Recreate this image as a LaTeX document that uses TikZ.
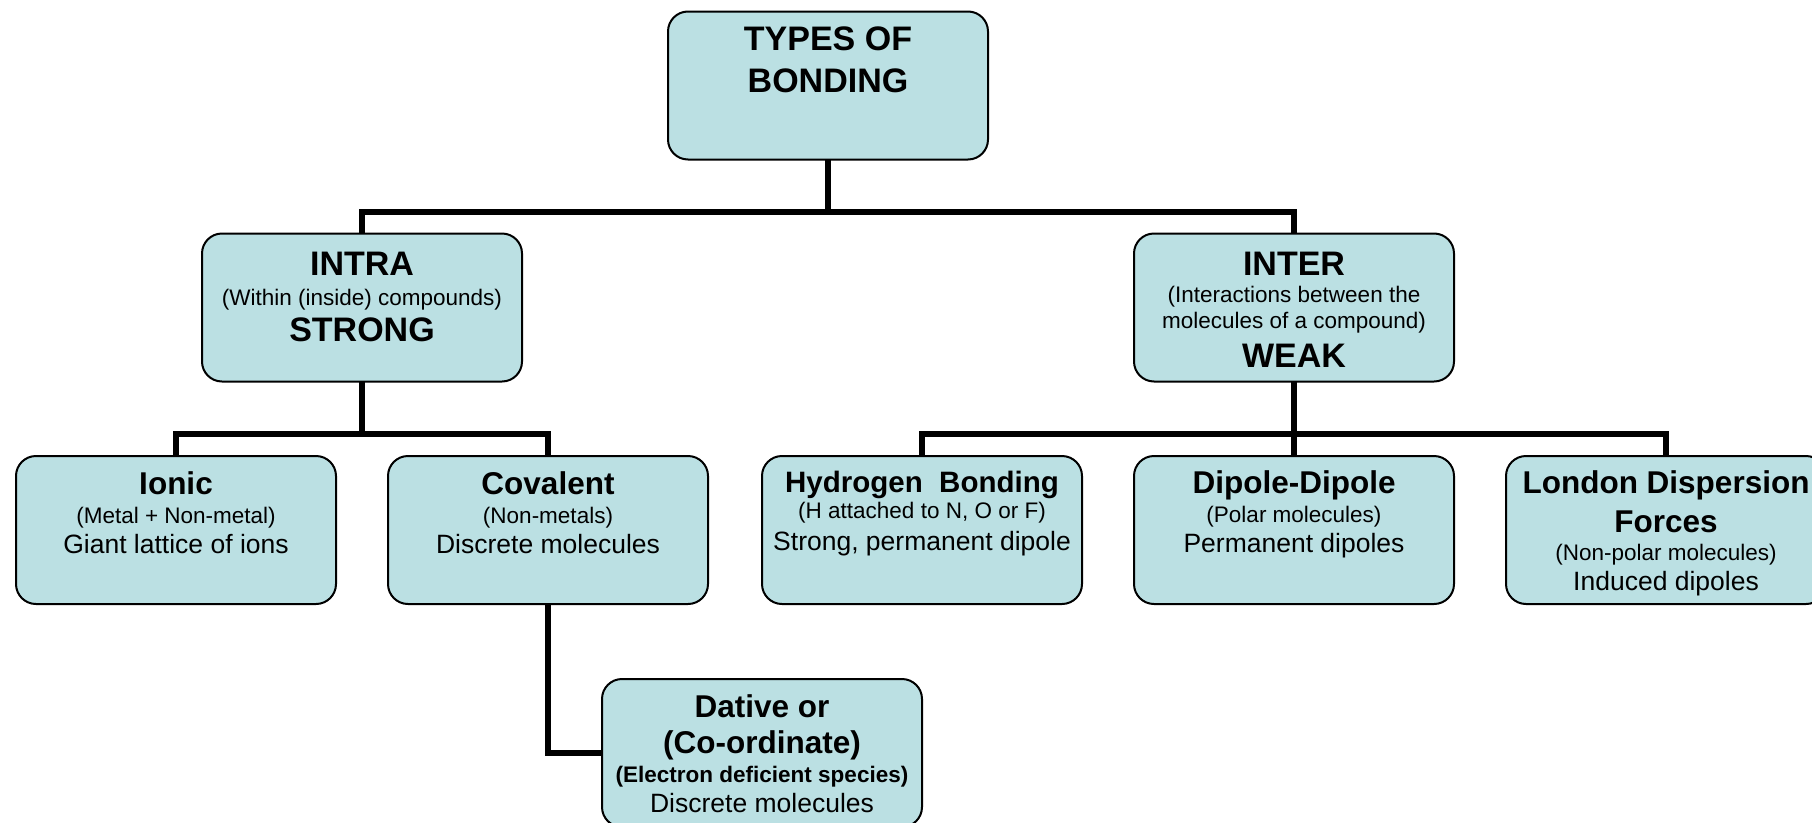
\documentclass[tikz,border=0pt]{standalone}
\usepackage{fontspec}
\setmainfont{Liberation Sans}
\definecolor{boxfill}{RGB}{187,224,227}
\begin{document}
\begin{tikzpicture}[x=1pt,y=-1pt,
  box/.style={draw=black, line width=2pt, fill=boxfill, rounded corners=20pt,
    minimum width=320pt, minimum height=148pt, inner sep=0pt, outer sep=0pt},
  conn/.style={line width=6pt, draw=black},
  big/.style={font=\fontsize{34}{40}\selectfont\bfseries, anchor=base, inner sep=0pt},
  mid/.style={font=\fontsize{31.5}{36}\selectfont\bfseries, anchor=base, inner sep=0pt},
  midh/.style={font=\fontsize{29.5}{34}\selectfont\bfseries, anchor=base, inner sep=0pt},
  small/.style={font=\fontsize{22.5}{26}\selectfont, anchor=base, inner sep=0pt},
  smallb/.style={font=\fontsize{22.5}{26}\selectfont\bfseries, anchor=base, inner sep=0pt},
  norm/.style={font=\fontsize{26.5}{30}\selectfont, anchor=base, inner sep=0pt}]
\useasboundingbox (0,0) rectangle (1812,822);
\clip (0,0) rectangle (1812,822);

% boxes
\node[box] (top) at (828,85.5) {};
\node[box] (intra) at (362,307.5) {};
\node[box] (inter) at (1294,307.5) {};
\node[box] (ionic) at (176,530) {};
\node[box] (cov) at (548,530) {};
\node[box] (hyd) at (922,530) {};
\node[box] (dip) at (1294,530) {};
\node[box] (lon) at (1666,530) {};
\node[box] (dat) at (762,753) {};

% junction points
\coordinate (b1) at (828,212);
\coordinate (b2) at (362,434);
\coordinate (b3) at (1294,434);

% connectors
\draw[conn] (top.south) -- (b1);
\draw[conn] (intra.north) -- (intra.north |- b1) -- (inter.north |- b1) -- (inter.north);
\draw[conn] (intra.south) -- (b2);
\draw[conn] (ionic.north) -- (ionic.north |- b2) -- (cov.north |- b2) -- (cov.north);
\draw[conn] (inter.south) -- (dip.north);
\draw[conn] (hyd.north) -- (hyd.north |- b3) -- (lon.north |- b3) -- (lon.north);
\draw[conn] (cov.south) |- (dat.west);

% texts
\node[big] (t1) at (828,50) {TYPES OF};
\node[big] (t2) at (828,92) {BONDING};

\node[big] (ia1) at (362,275) {INTRA};
\node[small] (ia2) at (362,305) {(Within (inside) compounds)};
\node[big] (ia3) at (362,341) {STRONG};

\node[big] (ie1) at (1294,275) {INTER};
\node[small] (ie2) at (1294,302) {(Interactions between the};
\node[small] (ie3) at (1294,328) {molecules of a compound)};
\node[big] (ie4) at (1294,367) {WEAK};

\node[mid] (io1) at (176,494) {Ionic};
\node[small] (io2) at (176,523) {(Metal + Non-metal)};
\node[norm] (io3) at (176,553) {Giant lattice of ions};

\node[mid] (co1) at (548,494) {Covalent};
\node[small] (co2) at (548,523) {(Non-metals)};
\node[norm] (co3) at (548,553) {Discrete molecules};

\node[midh] (hy1) at (922,492) {Hydrogen\ \ Bonding};
\node[small] (hy2) at (922,518) {(H attached to N, O or F)};
\node[norm] (hy3) at (922,550) {Strong, permanent dipole};

\node[mid] (di1) at (1294,493) {Dipole-Dipole};
\node[small] (di2) at (1294,522) {(Polar molecules)};
\node[norm] (di3) at (1294,552) {Permanent dipoles};

\node[mid] (lo1) at (1666,493) {London Dispersion};
\node[mid] (lo2) at (1666,532) {Forces};
\node[small] (lo3) at (1666,560) {(Non-polar molecules)};
\node[norm] (lo4) at (1666,590) {Induced dipoles};

\node[mid] (da1) at (762,717) {Dative or};
\node[mid] (da2) at (762,753) {(Co-ordinate)};
\node[smallb] (da3) at (762,782) {(Electron deficient species)};
\node[norm] (da4) at (762,812) {Discrete molecules};
\end{tikzpicture}
\end{document}
